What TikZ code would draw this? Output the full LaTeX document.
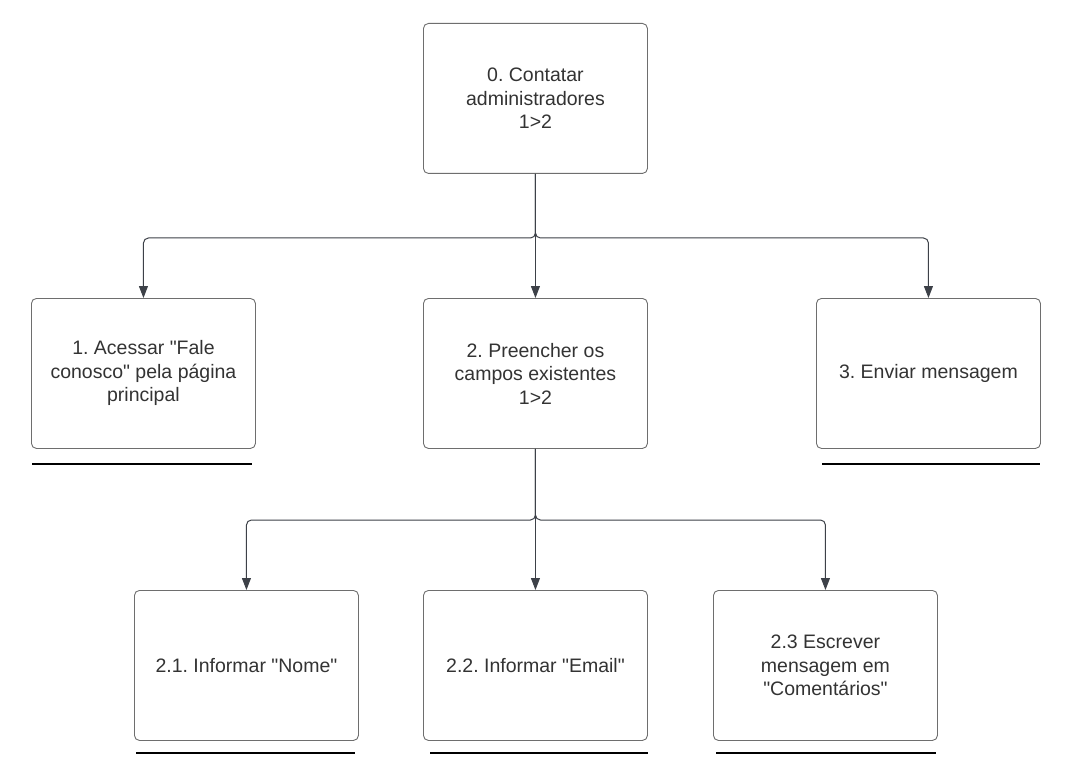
\documentclass[tikz,border=0pt]{standalone}
\usepackage{fontspec}
\setmainfont{Liberation Sans}[Ligatures=TeXOff]
\usetikzlibrary{arrows.meta}
\definecolor{linec}{HTML}{3D4148}
\definecolor{boxc}{HTML}{6E6E6E}
\definecolor{txtc}{HTML}{333333}
\frenchspacing
\begin{document}
\begin{tikzpicture}[x=1pt,y=-1pt,
  task/.style={draw=boxc,line width=0.9pt,rounded corners=5pt,minimum width=224pt,minimum height=150pt,
    align=center,text=txtc,font=\fontsize{19.5}{23.5}\selectfont,inner sep=0pt,anchor=north west},
  conn/.style={draw=linec,line width=1pt,rounded corners=5pt,-{Triangle[length=12pt,width=9pt]}},
  uline/.style={draw=black,line width=2pt}]
\useasboundingbox[fill=white] (0,0) rectangle (1072,781);
\node[task] (n0) at (423,23) {0. Contatar\\administradores\\1>2};
\node[task] (n1) at (31,298) {1. Acessar "Fale\\conosco" pela página\\principal};
\node[task] (n2) at (423,298) {2. Preencher os\\campos existentes\\1>2};
\node[task] (n3) at (816,298) {3. Enviar mensagem};
\node[task] (n21) at (134,590) {2.1. Informar "Nome"};
\node[task] (n22) at (423,590) {2.2. Informar "Email"};
\node[task] (n23) at (713,590) {2.3 Escrever\\mensagem em\\"Comentários"};
\coordinate (j0) at (n0.south |- 0,238);
\coordinate (j2) at (n2.south |- 0,520);
\draw[conn] (n0.south) -- (j0) -- (j0 -| n1.north) -- (n1.north);
\draw[conn] (n0.south) -- (n2.north);
\draw[conn] (n0.south) -- (j0) -- (j0 -| n3.north) -- (n3.north);
\draw[conn] (n2.south) -- (j2) -- (j2 -| n21.north) -- (n21.north);
\draw[conn] (n2.south) -- (n22.north);
\draw[conn] (n2.south) -- (j2) -- (j2 -| n23.north) -- (n23.north);
\coordinate (u1a) at (32,464); \coordinate (u1b) at (252,464);
\coordinate (u3a) at (822,464); \coordinate (u3b) at (1040,464);
\coordinate (u21a) at (136,753); \coordinate (u21b) at (355,753);
\coordinate (u22a) at (430,753); \coordinate (u22b) at (648,753);
\coordinate (u23a) at (716,753); \coordinate (u23b) at (936,753);
\draw[uline] (u1a) -- (u1b);
\draw[uline] (u3a) -- (u3b);
\draw[uline] (u21a) -- (u21b);
\draw[uline] (u22a) -- (u22b);
\draw[uline] (u23a) -- (u23b);
\end{tikzpicture}
\end{document}
